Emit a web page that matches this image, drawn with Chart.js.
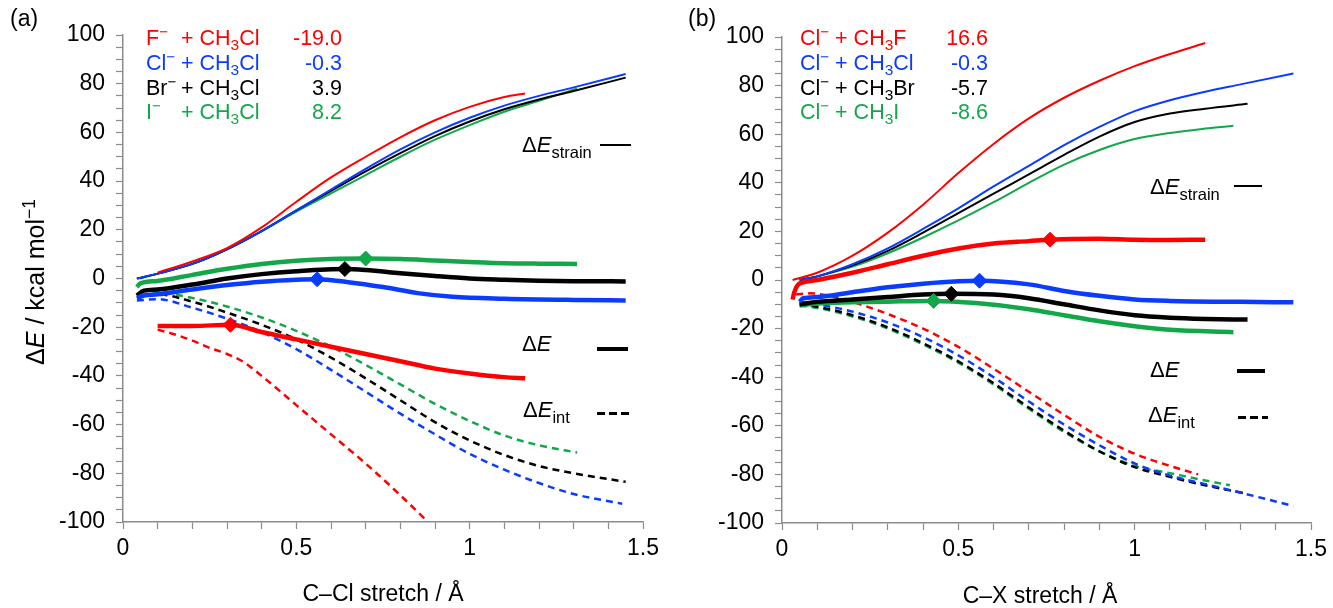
<!DOCTYPE html>
<html>
<head>
<meta charset="utf-8">
<script src="https://cdn.jsdelivr.net/npm/chart.js@4.4.1/dist/chart.umd.min.js"></script>
<style>
body { margin:0; background:#fff; font-family:"Liberation Sans", Arial, sans-serif; }
#wrap { position:relative; width:1333px; height:608px; overflow:hidden; }
canvas { position:absolute; top:0; }
.t { position:absolute; white-space:nowrap; line-height:24px; font-size:21.5px; }
.t sup { font-size:0.7em; vertical-align:0.5em; line-height:0; }
.t sub { font-size:0.72em; vertical-align:-0.3em; line-height:0; }
.lg { position:absolute; white-space:nowrap; line-height:26px; font-size:22px; color:#000; }
.lg i { font-style:italic; }
.lg sub { font-size:0.75em; vertical-align:-0.35em; line-height:0; }
.key { position:absolute; background:#000; }
.dash { position:absolute; background:repeating-linear-gradient(to right,#000 0 8px,transparent 8px 12px); }
.big { position:absolute; white-space:nowrap; font-size:23px; line-height:28px; color:#000; }
</style>
</head>
<body>
<div id="wrap">
  <canvas id="chartA" width="665" height="608" style="left:0"></canvas>
  <canvas id="chartB" width="668" height="608" style="left:665px"></canvas>
</div>
<script>
// colours of the four systems
const RED = '#ff0000', BLUE = '#0a3cff', BLACK = '#000000', GREEN = '#12a84a'
const FONT = '"Liberation Sans", Arial, sans-serif'

// ---- panel (a): X- + CH3Cl, [stretch, kcal/mol] ----
const aStrainF  = [[0.10,2.5],[0.2,7],[0.3,12.5],[0.4,21],[0.5,31.5],[0.6,41.5],[0.7,50],[0.8,58],[0.9,65],[1.0,70.5],[1.1,74.5],[1.16,76]]
const aStrainCl = [[0.04,0],[0.1,2],[0.2,6],[0.3,12],[0.4,19.5],[0.5,28],[0.6,36.5],[0.7,45],[0.8,53],[0.9,60],[1.0,66],[1.1,71],[1.2,75],[1.3,78.5],[1.45,84]]
const aStrainBr = [[0.04,0],[0.1,2],[0.2,6],[0.3,12],[0.4,19.5],[0.5,28],[0.6,36],[0.7,44],[0.8,51.5],[0.9,58.5],[1.0,64.5],[1.1,69.5],[1.2,73.5],[1.3,77],[1.45,82.5]]
const aStrainI  = [[0.05,0],[0.1,2],[0.2,6],[0.3,12],[0.4,19.5],[0.5,27.5],[0.6,35],[0.7,42.5],[0.8,50],[0.9,57],[1.0,63],[1.1,68.5],[1.2,73],[1.31,78]]

const aTotF  = [[0.1,-19.5],[0.2,-19.5],[0.31,-19],[0.4,-22],[0.5,-25],[0.6,-28],[0.7,-31],[0.8,-34],[0.9,-37],[1.0,-39],[1.1,-40.5],[1.16,-41]]
const aTotCl = [[0.04,-8],[0.06,-7],[0.1,-6.5],[0.2,-4.5],[0.3,-2.7],[0.4,-1.3],[0.5,-0.5],[0.56,-0.3],[0.65,-1.5],[0.75,-3.5],[0.85,-6],[0.95,-7.5],[1.1,-8.3],[1.3,-8.8],[1.45,-9]]
const aTotBr = [[0.04,-7],[0.06,-5],[0.1,-4.5],[0.2,-2.5],[0.3,0],[0.4,1.8],[0.5,3],[0.64,3.9],[0.7,3.5],[0.8,2.2],[0.9,1],[1.0,0],[1.1,-0.5],[1.2,-0.9],[1.3,-1.1],[1.45,-1.2]]
const aTotI  = [[0.04,-3.5],[0.05,-2],[0.1,-1],[0.2,1.5],[0.3,4],[0.4,6],[0.5,7.3],[0.6,8],[0.7,8.2],[0.8,8],[0.9,7.4],[1.0,6.8],[1.1,6.3],[1.2,6.1],[1.31,6]]

const aIntF  = [[0.1,-21],[0.15,-23],[0.2,-25.5],[0.25,-28.5],[0.3,-31],[0.35,-34.5],[0.4,-40],[0.5,-52],[0.6,-64],[0.7,-76],[0.8,-89],[0.88,-100]]
const aIntCl = [[0.04,-9],[0.1,-8.5],[0.2,-12],[0.3,-16.5],[0.4,-22],[0.5,-29],[0.6,-37.5],[0.7,-46.5],[0.8,-55.5],[0.9,-64],[1.0,-72],[1.1,-78.5],[1.2,-84],[1.3,-88.5],[1.44,-92.5]]
const aIntBr = [[0.04,-8],[0.1,-6.5],[0.2,-9.5],[0.3,-14],[0.4,-19],[0.5,-25],[0.6,-32.5],[0.7,-41],[0.8,-50],[0.9,-59],[1.0,-66.5],[1.1,-72.5],[1.2,-77],[1.3,-80],[1.45,-83.5]]
const aIntI  = [[0.05,-5],[0.1,-5.5],[0.2,-8],[0.3,-11.5],[0.4,-16],[0.5,-21.5],[0.6,-28],[0.7,-35.5],[0.8,-43.5],[0.9,-51.5],[1.0,-58.5],[1.1,-64.5],[1.2,-68.5],[1.31,-71.5]]

// transition states (diamonds)
const aTS = [[0.31,-19.0],[0.56,-0.3],[0.64,3.9],[0.70,8.2]]

// ---- panel (b): Cl- + CH3X ----
const bStrainF  = [[0.03,0],[0.1,3],[0.2,10],[0.3,19.5],[0.4,31],[0.5,44],[0.6,56],[0.7,66.5],[0.8,75],[0.9,82],[1.0,88],[1.1,93],[1.2,97.5]]
const bStrainCl = [[0.05,0],[0.1,1.5],[0.2,6.5],[0.3,13],[0.4,21],[0.5,29.5],[0.6,38.5],[0.7,47],[0.8,55.5],[0.9,63],[1.0,69.5],[1.1,74],[1.2,77.5],[1.3,80.5],[1.45,85]]
const bStrainBr = [[0.05,0],[0.1,1.5],[0.2,6],[0.3,12],[0.4,19.5],[0.5,27.5],[0.6,35.5],[0.7,43.5],[0.8,51.5],[0.9,59],[1.0,65],[1.1,68.5],[1.2,70.5],[1.32,72.5]]
const bStrainI  = [[0.05,0],[0.1,1.5],[0.2,5.5],[0.3,11],[0.4,17.5],[0.5,24.5],[0.6,32],[0.7,40],[0.8,47.5],[0.9,53.5],[1.0,58],[1.1,60.5],[1.2,62.3],[1.28,63.5]]

const bTotF  = [[0.03,-8],[0.035,-5],[0.045,-2],[0.06,-1],[0.1,0],[0.2,3],[0.3,6.5],[0.4,10],[0.5,13],[0.6,15],[0.7,16],[0.76,16.6],[0.9,17],[1.0,16.6],[1.1,16.5],[1.2,16.6]]
const bTotCl = [[0.05,-9],[0.06,-7.5],[0.1,-7],[0.2,-5],[0.3,-3],[0.4,-1.5],[0.5,-0.5],[0.56,-0.3],[0.7,-1.8],[0.8,-4.5],[0.9,-6.5],[1.0,-8],[1.1,-8.6],[1.3,-9],[1.45,-9.2]]
const bTotBr = [[0.05,-10],[0.1,-9],[0.2,-8],[0.3,-7],[0.4,-6],[0.48,-5.7],[0.6,-6],[0.7,-7.5],[0.8,-10],[0.9,-12.5],[1.0,-14.5],[1.1,-15.5],[1.2,-16],[1.32,-16.3]]
const bTotI  = [[0.05,-10.5],[0.1,-9.7],[0.2,-9.2],[0.3,-8.9],[0.43,-8.6],[0.55,-9.5],[0.7,-12],[0.8,-14.5],[0.9,-17],[1.0,-19],[1.1,-20.5],[1.28,-21.5]]

const bIntF  = [[0.04,-6],[0.08,-5.5],[0.15,-7],[0.2,-9],[0.3,-14],[0.4,-20],[0.5,-27.5],[0.6,-36.5],[0.7,-46],[0.8,-55.5],[0.9,-64.5],[1.0,-71.5],[1.1,-76.5],[1.18,-80]]
const bIntCl = [[0.05,-9],[0.1,-10],[0.2,-13],[0.3,-17.5],[0.4,-23.5],[0.5,-31],[0.6,-40],[0.7,-50],[0.8,-59.5],[0.9,-68],[1.0,-75.5],[1.1,-80.5],[1.2,-84],[1.3,-87.5],[1.45,-93]]
const bIntBr = [[0.05,-10],[0.1,-11],[0.2,-14.5],[0.3,-19.5],[0.4,-26],[0.5,-33.5],[0.6,-42.5],[0.7,-52.5],[0.8,-62],[0.9,-70.5],[1.0,-77],[1.1,-81],[1.2,-84.5],[1.32,-88]]
const bIntI  = [[0.05,-10.5],[0.1,-11.5],[0.2,-15],[0.3,-20],[0.4,-26.5],[0.5,-34],[0.6,-43],[0.7,-53],[0.8,-62.5],[0.9,-70.5],[1.0,-76.5],[1.1,-79.5],[1.2,-82.5],[1.27,-84.5]]

const bTS = [[0.76,16.6],[0.56,-0.3],[0.48,-5.7],[0.43,-8.6]]

const tsColors = [RED, BLUE, BLACK, GREEN]

// legend rows
const aRows = [['F', '+ CH<sub>3</sub>Cl', '-19.0'], ['Cl', '+ CH<sub>3</sub>Cl', '-0.3'], ['Br', '+ CH<sub>3</sub>Cl', '3.9'], ['I', '+ CH<sub>3</sub>Cl', '8.2']]
const bRows = [['Cl', '+ CH<sub>3</sub>F', '16.6'], ['Cl', '+ CH<sub>3</sub>Cl', '-0.3'], ['Cl', '+ CH<sub>3</sub>Br', '-5.7'], ['Cl', '+ CH<sub>3</sub>I', '-8.6']]

function line(pts, color, kind) {
  return {
    data: pts.map(p => ({x: p[0], y: p[1]})),
    borderColor: color,
    borderWidth: kind == 'tot' ? 4.5 : (kind == 'int' ? 2.5 : 2),
    borderDash: kind == 'int' ? [7, 5] : [],
    pointRadius: 0,
    cubicInterpolationMode: 'monotone',
    fill: false,
    order: kind == 'tot' ? 1 : 2
  }
}

function markers(pts) {
  return pts.map((p, i) => ({
    data: [{x: p[0], y: p[1]}],
    showLine: false,
    pointStyle: 'rectRot',
    pointRadius: 7.5,
    backgroundColor: tsColors[i],
    borderColor: tsColors[i],
    order: 0
  }))
}

function makeOpts(yWidth, xHeight, padRight, padTop) {
  const axisGray = '#8c8c8c'
  return {
    responsive: false,
    animation: false,
    devicePixelRatio: 1,
    layout: {padding: {left: 0, right: padRight, top: padTop, bottom: 0}},
    plugins: {legend: {display: false}, tooltip: {enabled: false}},
    scales: {
      x: {
        type: 'linear', min: 0, max: 1.5,
        afterFit: s => { s.height = xHeight },
        ticks: {
          stepSize: 0.1, autoSkip: false, maxRotation: 0, color: '#000', padding: 6,
          font: {family: FONT, size: 23},
          callback: v => { const r = Math.round(v * 10); return r % 5 === 0 ? String(r / 10) : '' }
        },
        grid: {drawOnChartArea: false, tickLength: 7, tickColor: axisGray, tickWidth: 1.2},
        border: {color: axisGray, width: 1.5}
      },
      y: {
        min: -100, max: 100,
        afterFit: s => { s.width = yWidth },
        ticks: {
          stepSize: 5, autoSkip: false, color: '#000', padding: 11,
          font: {family: FONT, size: 23},
          callback: v => { const r = Math.round(v); return r % 20 === 0 ? String(r) : '' }
        },
        grid: {drawOnChartArea: false, tickLength: 7, tickColor: axisGray, tickWidth: 1.2},
        border: {color: axisGray, width: 1.5}
      }
    }
  }
}

new Chart(document.getElementById('chartA'), {
  type: 'line',
  data: {datasets: [
    ...markers(aTS),
    line(aTotF, RED, 'tot'), line(aTotCl, BLUE, 'tot'), line(aTotBr, BLACK, 'tot'), line(aTotI, GREEN, 'tot'),
    line(aStrainF, RED, 'strain'), line(aStrainCl, BLUE, 'strain'), line(aStrainBr, BLACK, 'strain'), line(aStrainI, GREEN, 'strain'),
    line(aIntF, RED, 'int'), line(aIntCl, BLUE, 'int'), line(aIntBr, BLACK, 'int'), line(aIntI, GREEN, 'int')
  ]},
  options: makeOpts(123, 86, 20, 35)
})

new Chart(document.getElementById('chartB'), {
  type: 'line',
  data: {datasets: [
    ...markers(bTS),
    line(bTotF, RED, 'tot'), line(bTotCl, BLUE, 'tot'), line(bTotBr, BLACK, 'tot'), line(bTotI, GREEN, 'tot'),
    line(bStrainF, RED, 'strain'), line(bStrainCl, BLUE, 'strain'), line(bStrainBr, BLACK, 'strain'), line(bStrainI, GREEN, 'strain'),
    line(bIntF, RED, 'int'), line(bIntCl, BLUE, 'int'), line(bIntBr, BLACK, 'int'), line(bIntI, GREEN, 'int')
  ]},
  options: makeOpts(117, 85, 21, 37)
})

// ---- text overlays ----
const wrap = document.getElementById('wrap')
function addDiv(cls, style, html) {
  const d = document.createElement('div')
  d.className = cls
  d.setAttribute('style', style)
  d.innerHTML = html
  wrap.appendChild(d)
  return d
}

const rowY = [38, 63, 88, 112]
aRows.forEach((r, i) => {
  const top = rowY[i] - 12
  addDiv('t', `left:146px;top:${top}px;color:${tsColors[i]}`, r[0] + '<sup>\u2212</sup>')
  addDiv('t', `left:181px;top:${top}px;color:${tsColors[i]}`, r[1])
  addDiv('t', `right:${1333 - 342}px;top:${top}px;color:${tsColors[i]};text-align:right`, r[2])
})
bRows.forEach((r, i) => {
  const top = rowY[i] - 12
  addDiv('t', `left:800px;top:${top}px;color:${tsColors[i]}`, r[0] + '<sup>\u2212</sup> ' + r[1])
  addDiv('t', `right:${1333 - 988}px;top:${top}px;color:${tsColors[i]};text-align:right`, r[2])
})

// line-style keys
addDiv('lg', 'left:522px;top:132px', '\u0394<i>E</i><sub>strain</sub>')
addDiv('key', 'left:600px;top:144px;width:31px;height:2px', '')
addDiv('lg', 'left:522px;top:331px', '\u0394<i>E</i>')
addDiv('key', 'left:597px;top:347px;width:31px;height:4px', '')
addDiv('lg', 'left:523px;top:397px', '\u0394<i>E</i><sub>int</sub>')
addDiv('dash', 'left:597px;top:412px;width:32px;height:3px', '')

addDiv('lg', 'left:1150px;top:174px', '\u0394<i>E</i><sub>strain</sub>')
addDiv('key', 'left:1234px;top:185px;width:28px;height:2px', '')
addDiv('lg', 'left:1150px;top:357px', '\u0394<i>E</i>')
addDiv('key', 'left:1237px;top:369px;width:28px;height:4px', '')
addDiv('lg', 'left:1148px;top:402px', '\u0394<i>E</i><sub>int</sub>')
addDiv('dash', 'left:1238px;top:416px;width:30px;height:3px', '')

// panel letters and axis titles
addDiv('big', 'left:10px;top:4px', '(a)')
addDiv('big', 'left:688px;top:4px', '(b)')
addDiv('big', 'left:35px;top:282px;font-size:25px;transform:translate(-50%,-50%) rotate(-90deg)',
  '\u0394<i>E</i> / kcal mol<sup style="font-size:0.7em;vertical-align:0.5em;line-height:0">\u22121</sup>')
addDiv('big', 'left:383px;top:593px;transform:translate(-50%,-50%)', 'C\u2013Cl stretch / \u00c5')
addDiv('big', 'left:1040px;top:595px;transform:translate(-50%,-50%)', 'C\u2013X stretch / \u00c5')
</script>
</body>
</html>
